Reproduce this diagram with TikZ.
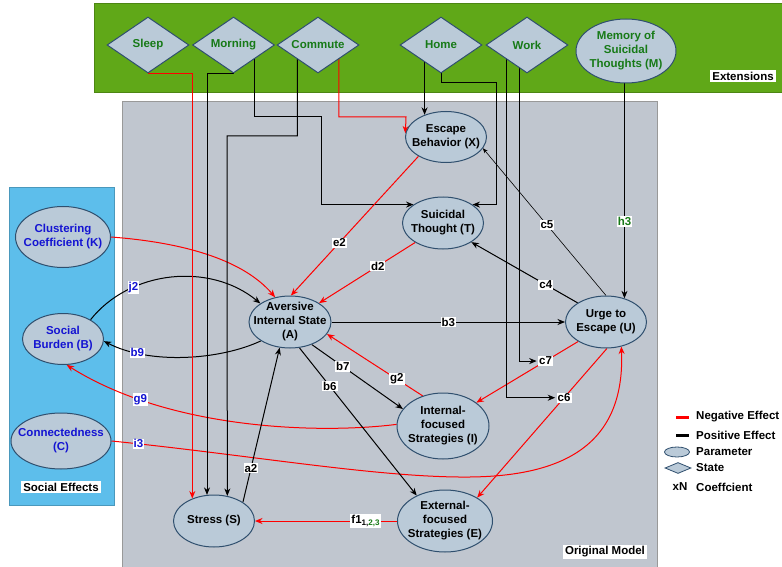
\documentclass[tikz,border=0pt]{standalone}
\usepackage{fontspec}
\setmainfont{Liberation Sans}
\usetikzlibrary{shapes.geometric,arrows.meta}
\definecolor{bandgreen}{HTML}{60A818}
\definecolor{panelgray}{HTML}{C0C6CF}
\definecolor{panelblue}{HTML}{5DBEEB}
\definecolor{nodefill}{HTML}{BACAD8}
\definecolor{nodeedge}{HTML}{2F4F6E}
\definecolor{tgreen}{HTML}{177A17}
\definecolor{tblue}{HTML}{1414D2}
\pgfdeclarelayer{panels}
\pgfdeclarelayer{wires}
\pgfsetlayers{panels,wires,main}
\tikzset{
  parnode/.style={ellipse, draw=nodeedge, fill=nodefill, line width=1pt, inner sep=0pt},
  statenode/.style={diamond, draw=nodeedge, fill=nodefill, line width=1pt, inner sep=0pt,
    aspect=1.46, minimum width=82, minimum height=56, text=tgreen},
  ptxt/.style={align=center},
  lab/.style={fill=white, text=black, inner sep=1pt, font=\bfseries\fontsize{11.5}{12}\selectfont},
  negfx/.style={red, line width=1pt, -{Stealth[length=7.5pt,width=6pt]}},
  posfx/.style={black, line width=1pt, -{Stealth[length=7.5pt,width=6pt]}},
  boxtitle/.style={fill=white, inner sep=2pt}
}
\begin{document}
\begin{tikzpicture}[x=1pt, y=-1pt, font=\bfseries\fontsize{11.5}{14}\selectfont]
  \useasboundingbox (0,0) rectangle (782,567);
  % Panels
  \begin{pgfonlayer}{panels}
    \fill[bandgreen, draw=bandgreen!80!black, line width=.5pt] (94,3) rectangle (782,92);
    \fill[panelgray, draw=gray!80, line width=.5pt] (122,101) rectangle (657,567);
    \fill[panelblue, draw=panelblue!80!black, line width=.5pt] (9,187) rectangle (114,505);
  \end{pgfonlayer}
  \node (ext) [boxtitle] at (743,76) {Extensions};
  \node (soc) [boxtitle] at (61,487) {Social Effects};
  \node (orig) [boxtitle] at (605,552) {Original Model};
  % States
  \node (sl) [statenode] at (148,45) {Sleep};
  \node (mo) [statenode] at (233.5,45) {Morning};
  \node (cm) [statenode] at (318,45) {Commute};
  \node (ho) [statenode] at (441,45) {Home};
  \node (wk) [statenode] at (527,45) {Work};
  \node (me) [parnode, minimum width=100, minimum height=64,
    label={[ptxt, text=tgreen]center:Memory of\\Suicidal\\Thoughts (M)}] at (626,51) {};
  % Social parameters
  \node (K) [parnode, minimum width=95, minimum height=61,
    label={[ptxt, text=tblue]center:Clustering\\Coefficient (K)}] at (63,237) {};
  \node (B) [parnode, minimum width=81, minimum height=51,
    label={[ptxt, text=tblue]center:Social\\Burden (B)}] at (63,339) {};
  \node (C) [parnode, minimum width=100, minimum height=56,
    label={[ptxt, text=tblue]center:Connectedness\\(C)}] at (61,441) {};
  % Model parameters
  \node (X) [parnode, minimum width=81, minimum height=51,
    label={[ptxt]center:Escape\\Behavior (X)}] at (446,137) {};
  \node (T) [parnode, minimum width=81, minimum height=52,
    label={[ptxt]center:Suicidal\\Thought (T)}] at (443,223) {};
  \node (A) [parnode, minimum width=82, minimum height=52,
    label={[ptxt]center:Aversive\\Internal State\\(A)}] at (290,322) {};
  \node (U) [parnode, minimum width=81, minimum height=52,
    label={[ptxt]center:Urge to\\Escape (U)}] at (606,322) {};
  \node (I) [parnode, minimum width=92, minimum height=66,
    label={[ptxt]center:Internal-\\focused\\Strategies (I)}] at (443,426) {};
  \node (E) [parnode, minimum width=95, minimum height=62,
    label={[ptxt]center:External-\\focused\\Strategies (E)}] at (445,521) {};
  \node (S) [parnode, minimum width=81, minimum height=52,
    label={[ptxt]center:Stress (S)}] at (214,521) {};
  % Arrows
  \begin{pgfonlayer}{wires}
    \draw[negfx] (K.east) .. controls (190,243) and (245,262) .. (A.121);
    \draw[posfx] (B.35) .. controls (130,270) and (210,262) .. node[lab, pos=.29, text=tblue] {j2} (A.148);
    \draw[posfx] (A.213) .. controls (220,360) and (150,365) .. node[lab, pos=.78, text=tblue] {b9} (B.-3);
    \draw[negfx] (I.178) .. controls (320,434) and (170,430) .. node[lab, pos=.78, text=tblue] {g9} (B.-82);
    \draw[negfx] (C.east) .. controls (250,455) and (380,478) .. (470,477) node[lab, pos=.065, text=tblue] {i3}
      .. controls (570,476) and (625,440) .. (U.-58);
    \draw[negfx] (sl.south) -| (S.134);
    \draw[posfx] (mo.south) -| (S.105);
    \draw[posfx] (cm.south west) |- (227,136) -- (S.62);
    \draw[posfx] (mo.south east) |- (321,117) |- (T.148);
    \draw[negfx] (cm.south east) |- (406,117) -- (X.175);
    \draw[posfx] (X.134 |- ho.center) -- (X.134);
    \draw[posfx] (ho.south) |- (496,83) |- (T.32);
    \draw[posfx] (U.52 |- me.center) -- node[lab, pos=.69, text=tgreen] {h3} (U.52);
    \draw[negfx] (X.215) -- node[lab, pos=.62] {e2} (A.88);
    \draw[negfx] (T.215) -- node[lab, pos=.39] {d2} (A.33);
    \draw[posfx] (A.east) -- node[lab] {b3} (U.west);
    \draw[posfx] (U.146) -- node[lab, pos=.3] {c4} (T.-34);
    \draw[posfx, line width=.6pt, -{Stealth[length=5pt,width=4pt]}] (U.north) -- node[lab, pos=.48] {c5} (X.-17);
    \draw[posfx] (A.-46) -- node[lab, pos=.34] {b7} (I.157);
    \draw[posfx] (A.-70) -- node[lab, pos=.26] {b6} (E.138);
    \draw[negfx] (I.124) -- node[lab, pos=.27] {g2} (A.-18);
    \draw[negfx] (U.215) -- node[lab, pos=.32] (c7) {c7} (I.35);
    \draw[negfx] (U.-88) -- node[lab, pos=.33] (c6) {c6} (E.36);
    \draw[posfx] (S.33) -- node[lab, pos=.22] {a2} (A.-112);
    \draw[negfx] (E.west) -- node[lab, pos=.22] {f1\textsubscript{1,\textcolor{tgreen}{2,3}}} (S.east);
    \draw[posfx, shorten >=1pt] ([xshift=-21pt]wk.center) |- (c6.west);
    \draw[posfx, shorten >=1pt] ([xshift=-8pt]wk.center) |- (c7.west);
  \end{pgfonlayer}
  % Legend
  \draw[red, line width=3pt] (676,417) -- (689,417);
  \node (lneg) [anchor=west, inner sep=2pt] at (694,417) {Negative Effect};
  \draw[black, line width=3pt] (676,435) -- (689,435);
  \node (lpos) [anchor=west, inner sep=2pt] at (694,435) {Positive Effect};
  \node (lparsym) [parnode, line width=.8pt, minimum width=25, minimum height=10] at (677,452) {};
  \node (lpar) [anchor=west, inner sep=2pt] at (694,452) {Parameter};
  \node (lstasym) [statenode, line width=.8pt, minimum width=26, minimum height=11] at (678,468) {};
  \node (lsta) [anchor=west, inner sep=2pt] at (694,468) {State};
  \node (lxn) at (680,487) {xN};
  \node (lcoef) [anchor=west, inner sep=2pt] at (694,487) {Coeffcient};
\end{tikzpicture}
\end{document}
